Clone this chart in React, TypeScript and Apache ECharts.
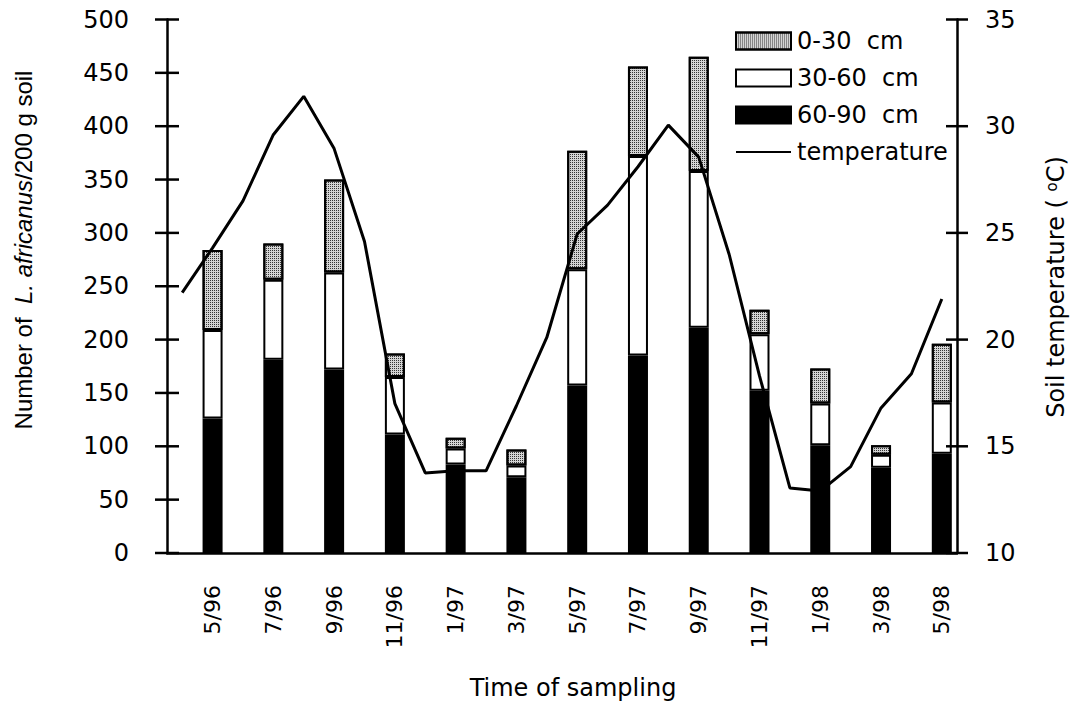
import React, { useEffect, useRef } from "react";
import * as echarts from "echarts";

const months = [
  "4/96", "5/96", "6/96", "7/96", "8/96", "9/96", "10/96", "11/96", "12/96",
  "1/97", "2/97", "3/97", "4/97", "5/97", "6/97", "7/97", "8/97", "9/97",
  "10/97", "11/97", "12/97", "1/98", "2/98", "3/98", "4/98", "5/98",
];
const sampleDates = [
  "5/96", "7/96", "9/96", "11/96", "1/97", "3/97", "5/97", "7/97", "9/97",
  "11/97", "1/98", "3/98", "5/98",
];
const depth60_90 = [126, 181, 172, 111, 83, 71, 157, 185, 211, 152, 101, 80, 93];
const depth30_60 = [83, 75, 91, 54, 15, 11, 109, 187, 147, 53, 39, 12, 48];
const depth0_30 = [75, 34, 87, 22, 10, 15, 111, 84, 107, 23, 33, 9, 55];
const temperature = [
  22.2, 24.3, 26.5, 29.6, 31.4, 28.95, 24.6, 17.0, 13.75, 13.85, 13.85, 16.9,
  20.1, 24.95, 26.3, 28.1, 30.05, 28.55, 24.0, 18.3, 13.05, 12.9, 14.05, 16.8,
  18.4, 21.9,
];
const leftTickValues = [0, 50, 100, 150, 200, 250, 300, 350, 400, 450, 500];
const rightTickValues = [10, 15, 20, 25, 30, 35];
const leftTicks = { min: 0, max: 500, interval: 50 };
const rightTicks = { min: 10, max: 35, interval: 5 };

const toMonthly = (vals: number[]) =>
  months.map((m) => {
    const i = sampleDates.indexOf(m);
    return i >= 0 ? vals[i] : "-";
  });

const FONT = "DejaVu Sans";

export default function App() {
  const ref = useRef<HTMLDivElement>(null);
  useEffect(() => {
    if (!ref.current) return;
    const chart = echarts.init(ref.current, null, { renderer: "svg" });
    const axisLineStyle = { color: "#000", width: 2.5 };
    const tickStyle = { color: "#000", width: 2.5 };
    const barBorder = { borderColor: "#000", borderWidth: 2 };

    const crossTick = (side: "left" | "right", half: number) =>
      (params: any, api: any) => {
        const cs = params.coordSys;
        const y = api.coord([0, api.value(1)])[1];
        const x = side === "left" ? cs.x : cs.x + cs.width;
        return {
          type: "line",
          shape: { x1: x - half, y1: y, x2: x + half, y2: y },
          style: { stroke: "#000", lineWidth: 2.5 },
        };
      };

    chart.setOption({
      animation: false,
      backgroundColor: "#fff",
      grid: {
        left: 167,
        right: 120,
        top: 19.5,
        bottom: 153,
        containLabel: false,
        outerBoundsMode: "none",
      },
      legend: {
        orient: "vertical",
        left: 735,
        top: 29,
        padding: 0,
        itemWidth: 55,
        itemHeight: 17,
        itemGap: 13,
        symbolKeepAspect: true,
        data: [
          { name: "0-30  cm", icon: "rect" },
          { name: "30-60  cm", icon: "rect" },
          { name: "60-90  cm", icon: "rect" },
          { name: "temperature", icon: "path://M0,0H55V2H0Z" },
        ],
        textStyle: { fontFamily: FONT, fontSize: 24, color: "#000", padding: [0, 0, 0, 1] },
      },
      xAxis: {
        type: "category",
        data: months,
        boundaryGap: true,
        axisLine: { lineStyle: axisLineStyle },
        axisTick: { interval: 0, length: 12, lineStyle: tickStyle },
        axisLabel: {
          interval: (index: number) => index % 2 === 1,
          rotate: 90,
          margin: 32,
          fontFamily: FONT,
          fontSize: 22,
          color: "#000",
        },
        splitLine: { show: false },
      },
      yAxis: [
        {
          type: "value",
          position: "left",
          ...leftTicks,
          axisLine: { show: true, lineStyle: axisLineStyle },
          axisTick: { show: false },
          axisLabel: { margin: 38, fontFamily: FONT, fontSize: 24, color: "#000" },
          splitLine: { show: false },
        },
        {
          type: "value",
          position: "right",
          ...rightTicks,
          axisLine: { show: true, lineStyle: axisLineStyle },
          axisTick: { show: false },
          axisLabel: { margin: 28, fontFamily: FONT, fontSize: 24, color: "#000" },
          splitLine: { show: false },
        },
      ],
      graphic: [
        {
          type: "text",
          x: 23,
          y: 250,
          rotation: Math.PI / 2,
          style: {
            text: "Number of  {i|L. africanus}/200 g soil",
            font: "24px 'Liberation Sans'",
            fill: "#000",
            align: "center",
            verticalAlign: "middle",
            rich: {
              i: { fontStyle: "italic", fontFamily: "Liberation Sans", fontSize: 24, fill: "#000" },
            },
          },
        },
        {
          type: "text",
          x: 1056,
          y: 287,
          rotation: Math.PI / 2,
          style: {
            text: "Soil temperature ( {sup|o}C)",
            font: "24px 'DejaVu Sans'",
            fill: "#000",
            align: "center",
            verticalAlign: "middle",
            rich: {
              sup: { fontFamily: FONT, fontSize: 15, fill: "#000", padding: [0, 0, 8, 0] },
            },
          },
        },
        {
          type: "text",
          x: 573,
          y: 688,
          style: {
            text: "Time of sampling",
            font: "24px 'DejaVu Sans'",
            fill: "#000",
            align: "center",
            verticalAlign: "middle",
          },
        },
      ],
      series: [
        {
          name: "60-90  cm",
          type: "bar",
          stack: "depth",
          barWidth: 20,
          data: toMonthly(depth60_90),
          itemStyle: { color: "#000", ...barBorder },
        },
        {
          name: "30-60  cm",
          type: "bar",
          stack: "depth",
          barWidth: 20,
          data: toMonthly(depth30_60),
          itemStyle: { color: "#fff", ...barBorder },
        },
        {
          name: "0-30  cm",
          type: "bar",
          stack: "depth",
          barWidth: 20,
          data: toMonthly(depth0_30),
          itemStyle: {
            color: "#d4d4d4",
            ...barBorder,
            decal: {
              symbol: "rect",
              symbolSize: 1,
              dashArrayX: [1, 1],
              dashArrayY: [1, 1],
              rotation: 0,
              color: "rgba(0,0,0,0.75)",
            },
          },
        },
        {
          name: "temperature",
          type: "line",
          yAxisIndex: 1,
          data: temperature,
          symbol: "none",
          lineStyle: { color: "#000", width: 3 },
          itemStyle: { color: "#000" },
          z: 5,
        },
        {
          name: "_leftTicks",
          type: "custom",
          yAxisIndex: 0,
          clip: false,
          silent: true,
          data: leftTickValues.map((v) => [0, v]),
          renderItem: crossTick("left", 12),
          z: 6,
        },
        {
          name: "_rightTicks",
          type: "custom",
          yAxisIndex: 1,
          clip: false,
          silent: true,
          data: rightTickValues.map((v) => [0, v]),
          renderItem: crossTick("right", 11),
          z: 6,
        },
      ],
    });
    return () => chart.dispose();
  }, []);
  return (
    <div
      ref={ref}
      style={{ position: "absolute", left: 0, top: 0, width: 1077, height: 706, background: "#fff" }}
    />
  );
}
